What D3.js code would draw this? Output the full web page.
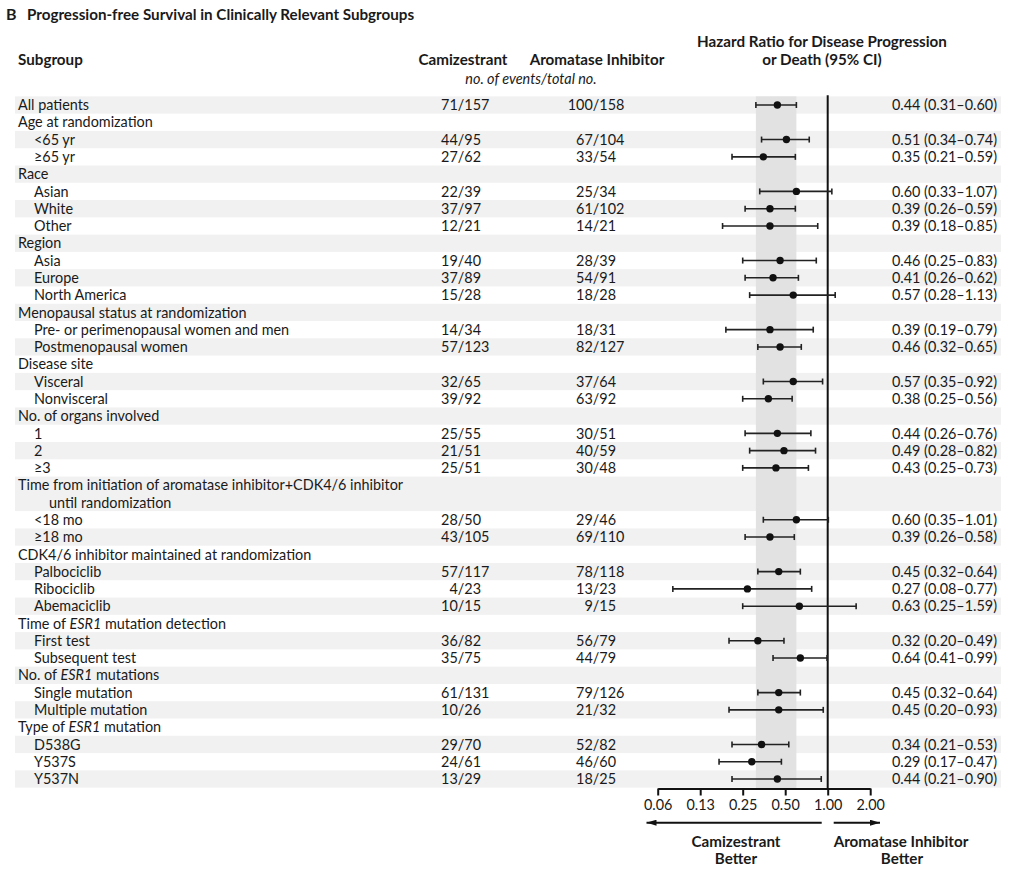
<!DOCTYPE html>
<html>
<head>
<meta charset="utf-8">
<script src="https://cdn.jsdelivr.net/npm/d3@7/dist/d3.min.js"></script>
<style>
  html, body { margin: 0; padding: 0; background: #fff; }
  svg { display: block; }
  text { font-family: Lato, "Noto Sans", sans-serif; fill: #1a1a1a; }
</style>
</head>
<body>
<svg id="chart" width="1016" height="877"></svg>
<script>
// ---------- DATA ----------
const subgroups = [
  "All patients",
  "Age at randomization",
  "<65 yr",
  "≥65 yr",
  "Race",
  "Asian",
  "White",
  "Other",
  "Region",
  "Asia",
  "Europe",
  "North America",
  "Menopausal status at randomization",
  "Pre- or perimenopausal women and men",
  "Postmenopausal women",
  "Disease site",
  "Visceral",
  "Nonvisceral",
  "No. of organs involved",
  "1",
  "2",
  "≥3",
  "Time from initiation of aromatase inhibitor+CDK4/6 inhibitor|until randomization",
  "<18 mo",
  "≥18 mo",
  "CDK4/6 inhibitor maintained at randomization",
  "Palbociclib",
  "Ribociclib",
  "Abemaciclib",
  "Time of *ESR1* mutation detection",
  "First test",
  "Subsequent test",
  "No. of *ESR1* mutations",
  "Single mutation",
  "Multiple mutation",
  "Type of *ESR1* mutation",
  "D538G",
  "Y537S",
  "Y537N"
];
const levels = [0,0,1,1,0,1,1,1,0,1,1,1,0,1,1,0,1,1,0,1,1,1,0,1,1,0,1,1,1,0,1,1,0,1,1,0,1,1,1];
const camizestrant = ["71/157",null,"44/95","27/62",null,"22/39","37/97","12/21",null,"19/40","37/89","15/28",null,"14/34","57/123",null,"32/65","39/92",null,"25/55","21/51","25/51",null,"28/50","43/105",null,"57/117","4/23","10/15",null,"36/82","35/75",null,"61/131","10/26",null,"29/70","24/61","13/29"];
const aromataseInhibitor = ["100/158",null,"67/104","33/54",null,"25/34","61/102","14/21",null,"28/39","54/91","18/28",null,"18/31","82/127",null,"37/64","63/92",null,"30/51","40/59","30/48",null,"29/46","69/110",null,"78/118","13/23","9/15",null,"56/79","44/79",null,"79/126","21/32",null,"52/82","46/60","18/25"];
const hr    = [0.44,null,0.51,0.35,null,0.60,0.39,0.39,null,0.46,0.41,0.57,null,0.39,0.46,null,0.57,0.38,null,0.44,0.49,0.43,null,0.60,0.39,null,0.45,0.27,0.63,null,0.32,0.64,null,0.45,0.45,null,0.34,0.29,0.44];
const ciLow = [0.31,null,0.34,0.21,null,0.33,0.26,0.18,null,0.25,0.26,0.28,null,0.19,0.32,null,0.35,0.25,null,0.26,0.28,0.25,null,0.35,0.26,null,0.32,0.08,0.25,null,0.20,0.41,null,0.32,0.20,null,0.21,0.17,0.21];
const ciHigh= [0.60,null,0.74,0.59,null,1.07,0.59,0.85,null,0.83,0.62,1.13,null,0.79,0.65,null,0.92,0.56,null,0.76,0.82,0.73,null,1.01,0.58,null,0.64,0.77,1.59,null,0.49,0.99,null,0.64,0.93,null,0.53,0.47,0.90];
const tickValues = [0.0625, 0.125, 0.25, 0.5, 1, 2];
const tickLabels = ["0.06", "0.13", "0.25", "0.50", "1.00", "2.00"];

// ---------- LAYOUT ----------
const svg = d3.select("#chart");
const fmt = d => d.toFixed(2);

let lineIdx = 0;
const rows = subgroups.map((label, i) => {
  const lines = label.split("|");
  const r = { i, lines, level: levels[i], start: lineIdx, n: lines.length,
    cam: camizestrant[i], ai: aromataseInhibitor[i], hr: hr[i], lo: ciLow[i], hi: ciHigh[i] };
  lineIdx += lines.length;
  return r;
});
const totalLines = lineIdx;

const y = d3.scaleLinear().domain([0, totalLines - 1]).range([105, 779]);
const lineH = (y(1) - y(0));
const x = d3.scaleLog().base(2).domain([0.0625, 2]).range([657.7, 870.2]);

const FS = 14.4;
const BFS = 15.2;

// stripes
svg.append("g").selectAll("rect")
  .data(rows.filter(r => r.i % 2 === 0))
  .join("rect")
  .attr("x", 15).attr("width", 986)
  .attr("y", r => y(r.start) - lineH / 2)
  .attr("height", r => lineH * r.n)
  .attr("fill", "#f1f1f1");

// overall CI band
const axisY = 788.5;
svg.append("rect")
  .attr("x", x(ciLow[0])).attr("width", x(ciHigh[0]) - x(ciLow[0]))
  .attr("y", y(0) - lineH / 2).attr("height", axisY - (y(0) - lineH / 2))
  .attr("fill", "#e2e2e2");

// reference line at 1
svg.append("line")
  .attr("x1", x(1)).attr("x2", x(1))
  .attr("y1", y(0) - lineH / 2 - 1).attr("y2", axisY)
  .attr("stroke", "#111").attr("stroke-width", 2);

// labels
const labelG = svg.append("g").attr("font-size", FS);
rows.forEach(r => {
  r.lines.forEach((ln, k) => {
    const xx = r.level === 0 ? (k === 0 ? 18 : 49) : 34;
    const t = labelG.append("text")
      .attr("x", xx).attr("y", y(r.start + k)).attr("dy", "0.36em");
    ln.split("*").forEach((part, j) => {
      if (!part) return;
      t.append("tspan").text(part).attr("font-style", j % 2 ? "italic" : null);
    });
  });
});

// counts aligned on slash
function countCol(vals, sx) {
  const g = svg.append("g").attr("font-size", FS);
  rows.forEach(r => {
    const v = vals[r.i];
    if (!v) return;
    const [a, b] = v.split("/");
    g.append("text").attr("x", sx + 2.3).attr("y", y(r.start)).attr("dy", "0.36em")
      .attr("text-anchor", "end").text(a + "/");
    g.append("text").attr("x", sx + 2.3).attr("y", y(r.start)).attr("dy", "0.36em")
      .attr("text-anchor", "start").text(b);
  });
}
countCol(camizestrant, 462);
countCol(aromataseInhibitor, 597);

// HR text
const hrG = svg.append("g").attr("font-size", FS);
rows.filter(r => r.hr != null).forEach(r => {
  hrG.append("text").attr("x", 997).attr("y", y(r.start)).attr("dy", "0.36em")
    .attr("text-anchor", "end")
    .text(`${fmt(r.hr)} (${fmt(r.lo)}–${fmt(r.hi)})`);
});

// error bars
const eb = svg.append("g");
const pts = rows.filter(r => r.hr != null);
eb.selectAll("line.ci").data(pts).join("line")
  .attr("x1", r => x(r.lo)).attr("x2", r => x(r.hi))
  .attr("y1", r => y(r.start)).attr("y2", r => y(r.start))
  .attr("stroke", "#222").attr("stroke-width", 1.6);
["lo", "hi"].forEach(k => {
  eb.selectAll("line.cap-" + k).data(pts).join("line")
    .attr("x1", r => x(r[k])).attr("x2", r => x(r[k]))
    .attr("y1", r => y(r.start) - 3).attr("y2", r => y(r.start) + 3)
    .attr("stroke", "#222").attr("stroke-width", 1.6);
});
eb.selectAll("circle").data(pts).join("circle")
  .attr("cx", r => x(r.hr)).attr("cy", r => y(r.start)).attr("r", 3.7)
  .attr("fill", "#111");

// axis
const axis = d3.axisBottom(x).tickValues(tickValues)
  .tickFormat((d, i) => tickLabels[i]).tickSize(7).tickSizeOuter(0);
const ag = svg.append("g").attr("transform", `translate(0,${axisY})`).call(axis);
ag.select(".domain").attr("stroke", "#111").attr("stroke-width", 2);
ag.selectAll(".tick line").attr("stroke", "#111").attr("stroke-width", 2);
ag.selectAll(".tick text").attr("font-family", "Lato, sans-serif").attr("font-size", FS)
  .attr("fill", "#1a1a1a").attr("y", 11);

// arrows
const defs = svg.append("defs");
defs.append("marker").attr("id", "ah").attr("viewBox", "0 0 10 6")
  .attr("refX", 10).attr("refY", 3).attr("markerWidth", 10).attr("markerHeight", 6)
  .attr("markerUnits", "userSpaceOnUse").attr("orient", "auto")
  .append("path").attr("d", "M0,0 L10,3 L0,6 Z").attr("fill", "#111");
const arrowY = 822.7;
svg.append("line").attr("x1", x(1) - 6).attr("x2", 646.5).attr("y1", arrowY).attr("y2", arrowY)
  .attr("stroke", "#111").attr("stroke-width", 2).attr("marker-end", "url(#ah)");
svg.append("line").attr("x1", x(1) + 6).attr("x2", 880).attr("y1", arrowY).attr("y2", arrowY)
  .attr("stroke", "#111").attr("stroke-width", 2).attr("marker-end", "url(#ah)");

const bl = svg.append("g").attr("font-size", BFS).attr("font-weight", "bold").attr("text-anchor", "middle");
bl.append("text").attr("x", 736).attr("y", 847).text("Camizestrant");
bl.append("text").attr("x", 736).attr("y", 864).text("Better");
bl.append("text").attr("x", 901).attr("y", 847).text("Aromatase Inhibitor");
bl.append("text").attr("x", 902).attr("y", 864).text("Better");

// headers
const hd = svg.append("g").attr("font-size", BFS).attr("font-weight", "bold");
hd.append("text").attr("x", 18).attr("y", 65).text("Subgroup");
hd.append("text").attr("x", 463).attr("y", 65).attr("text-anchor", "middle").text("Camizestrant");
hd.append("text").attr("x", 597).attr("y", 65).attr("text-anchor", "middle").text("Aromatase Inhibitor");
hd.append("text").attr("x", 822).attr("y", 47).attr("text-anchor", "middle").text("Hazard Ratio for Disease Progression");
hd.append("text").attr("x", 822).attr("y", 65).attr("text-anchor", "middle").text("or Death (95% CI)");
svg.append("text").attr("x", 531).attr("y", 84).attr("font-size", FS).attr("font-style", "italic")
  .attr("text-anchor", "middle").text("no. of events/total no.");

// title
svg.append("text").attr("x", 6).attr("y", 20).attr("font-size", 16).attr("font-weight", "bold").text("B");
svg.append("text").attr("x", 27).attr("y", 20).attr("font-size", 15.2).attr("font-weight", "bold")
  .text("Progression-free Survival in Clinically Relevant Subgroups");
</script>
</body>
</html>
